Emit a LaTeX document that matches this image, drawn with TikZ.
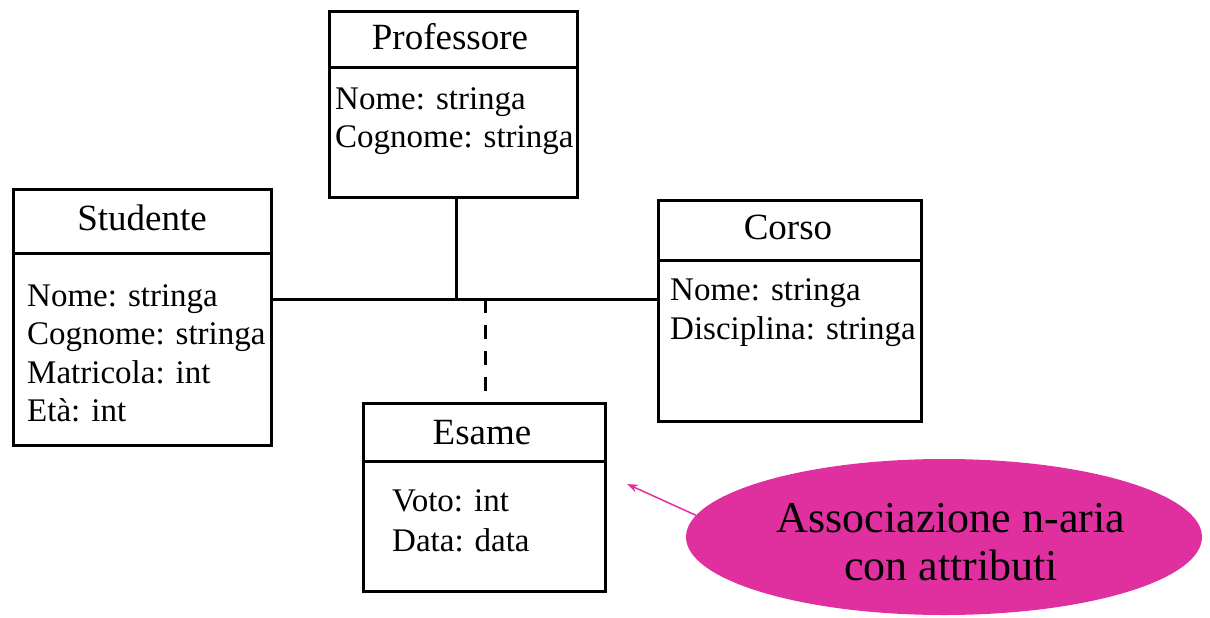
\documentclass[tikz,border=0pt]{standalone}
\usepackage{fontspec}
\setmainfont{Liberation Serif}
\usetikzlibrary{shapes.geometric,arrows.meta}
\definecolor{notepink}{RGB}{224,48,160}
\tikzset{
  classbox/.style={draw=black, line width=3pt, inner sep=0pt, anchor=north west},
  divider/.style={draw=black, line width=3pt},
  title/.style={anchor=base, inner sep=0pt, font=\fontsize{37}{40}\selectfont},
  attr/.style={anchor=base west, inner sep=0pt, font=\fontsize{33}{38}\selectfont},
  conn/.style={draw=black, line width=3pt},
  dashconn/.style={draw=black, line width=3pt, dash pattern=on 14pt off 12pt},
  note/.style={ellipse, fill=notepink, draw=none, inner sep=0pt},
  notetext/.style={inner sep=0pt, align=center, font=\fontsize{44}{48}\selectfont},
  notearrow/.style={draw=notepink, line width=1.5pt, -{Stealth[length=11pt,width=8pt]}}
}
\begin{document}
\begin{tikzpicture}[x=1pt,y=-1pt]
\useasboundingbox (0,0) rectangle (1210,618);
% Professore
\node[classbox, minimum width=248, minimum height=186] (prof) at (328,10) {};
\draw[divider] (prof.west |- 0,68) -- (prof.east |- 0,68);
\node[title] (proft) at (450,49) {Professore};
\node[attr] (prof1) at (335,109) {Nome: stringa};
\node[attr] (prof2) at (335,147) {Cognome: stringa};
% Studente
\node[classbox, minimum width=258, minimum height=256] (stud) at (12,188) {};
\draw[divider] (stud.west |- 0,253) -- (stud.east |- 0,253);
\node[title] (studt) at (142,230) {Studente};
\node[attr] (stud1) at (27,306) {Nome: stringa};
\node[attr] (stud2) at (27,344) {Cognome: stringa};
\node[attr] (stud3) at (27,383) {Matricola: int};
\node[attr] (stud4) at (27,421) {Età: int};
% Corso
\node[classbox, minimum width=263, minimum height=221] (corso) at (657,199) {};
\draw[divider] (corso.west |- 0,260) -- (corso.east |- 0,260);
\node[title] (corsot) at (788,239) {Corso};
\node[attr] (corso1) at (670,300) {Nome: stringa};
\node[attr] (corso2) at (670,339) {Disciplina: stringa};
% Esame
\node[classbox, minimum width=242, minimum height=188] (esame) at (362,402) {};
\draw[divider] (esame.west |- 0,461) -- (esame.east |- 0,461);
\node[title] (esamet) at (482,444) {Esame};
\node[attr] (esame1) at (392,511) {Voto: int};
\node[attr] (esame2) at (392,551) {Data: data};
% connectors
\coordinate (j) at (456,299);
\coordinate (k) at (485,299);
\draw[conn] (stud.east |- j) -- (corso.west |- j);
\draw[conn] (prof.south -| j) -- (j);
\draw[dashconn] (k) -- (esame.north -| k);
% note
\node[note, minimum width=516, minimum height=156] (notebox) at (944,537) {};
\node[notetext] (notelabel) at (951,542) {Associazione n-aria\\con attributi};
\coordinate (tip) at (627,484);
\draw[notearrow] (notebox.175) -- (tip);
\end{tikzpicture}
\end{document}
